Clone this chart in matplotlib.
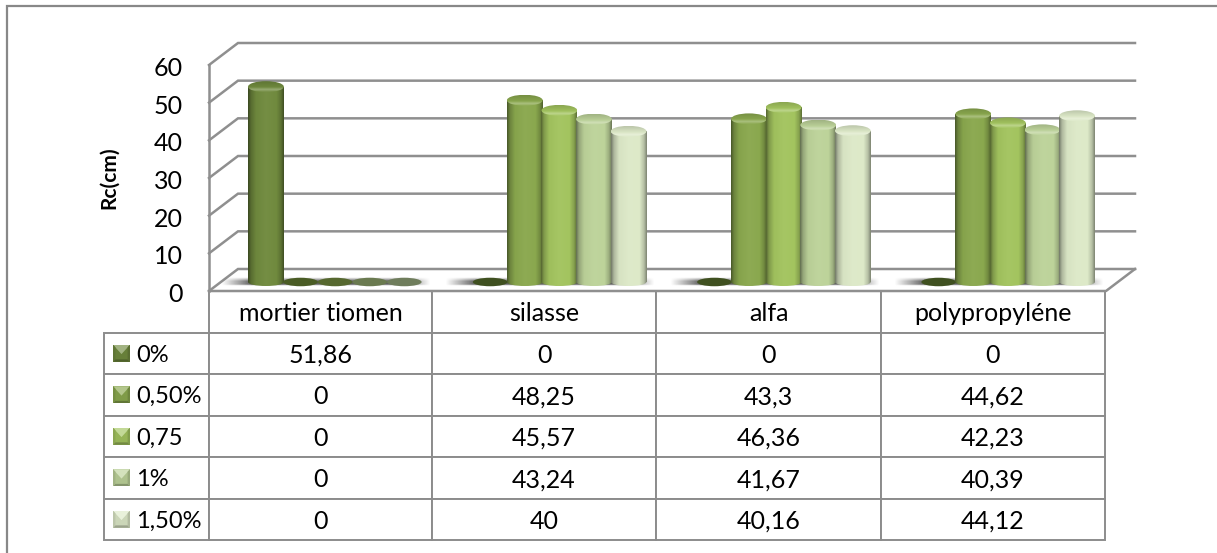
import numpy as np
import matplotlib
matplotlib.use('Agg')
import matplotlib.pyplot as plt
from matplotlib.lines import Line2D
from matplotlib.patches import Ellipse, Polygon, Rectangle
from matplotlib.table import Table
from matplotlib.transforms import ScaledTranslation

categories = ['mortier tiomen', 'silasse', 'alfa', 'polypropyléne']
series_names = ['0%', '0,50%', '0,75', '1%', '1,50%']
s_0 = [51.86, 0, 0, 0]
s_050 = [0, 48.25, 43.3, 44.62]
s_075 = [0, 45.57, 46.36, 42.23]
s_1 = [0, 43.24, 41.67, 40.39]
s_150 = [0, 40, 40.16, 44.12]
table_text = [
    ['51,86', '0', '0', '0'],
    ['0', '48,25', '43,3', '44,62'],
    ['0', '45,57', '46,36', '42,23'],
    ['0', '43,24', '41,67', '40,39'],
    ['0', '40', '40,16', '44,12'],
]
series = [s_0, s_050, s_075, s_1, s_150]
y_ticks = [0, 10, 20, 30, 40, 50, 60]
colors = ['#708a3e', '#8aa84e', '#a3c45f', '#bdd39a', '#dde9c8']
zero_colors = ['#3f5020', '#4a5c25', '#56682f', '#6a7a50', '#6f7d5c']

W, H = 1217, 553
GRAY = '#8c8c8c'
FONT = 18
plt.rcParams['font.family'] = ['Lato', 'DejaVu Sans']


def shade(color, amount):
    rgb = np.array(matplotlib.colors.to_rgb(color))
    if amount < 0:
        return rgb * (1 + amount)
    return rgb + (1 - rgb) * amount


def cyl_gradient(color):
    # dark edges, light band slightly left of the middle
    pos = np.array([0, .07, .22, .5, .8, .93, 1])
    amt = [-.45, -.22, -.03, .03, 0, -.18, -.4]
    rgb = np.array([shade(color, a) for a in amt])
    xs = np.linspace(0, 1, 40)
    return np.stack([np.interp(xs, pos, rgb[:, i]) for i in range(3)], axis=1)[None, :, :]


def cap_gradient(color):
    # top of the cylinder: darker at the back, light rim at the front
    pos = np.array([0, .55, .78, 1])
    amt = [-.15, -.02, .28, .05]
    rgb = np.array([shade(color, a) for a in amt])
    ys = np.linspace(0, 1, 20)
    return np.stack([np.interp(ys, pos, rgb[:, i]) for i in range(3)], axis=1)[:, None, :]


def px_w(v):
    return v / (W_AX / 4)


def px_h(v):
    return v / (H_AX / 60)


def table_label(cell, size):
    txt = cell.get_text()
    txt.set_fontsize(size)
    txt.set_va('center_baseline')


L_AX, R_AX, T_AX, B_AX = 209, 1106, 65, 291
W_AX, H_AX = R_AX - L_AX, B_AX - T_AX
DX, DY = px_w(29), px_h(22)

fig = plt.figure(figsize=(W / 100, H / 100), dpi=100, facecolor='white')
# chart border, the picture cuts it off on the right and at the bottom
fig.add_artist(Line2D([7 / W, 7 / W, 1], [0, 1 - 5.5 / H, 1 - 5.5 / H], transform=fig.transFigure,
                      color='#888888', lw=1.6, solid_joinstyle='miter'))

ax = fig.add_axes([L_AX / W, 1 - B_AX / H, W_AX / W, H_AX / H])
ax.set_xlim(-0.5, 3.5)
ax.set_ylim(0, 60)
ax.patch.set_visible(False)
for sp in ax.spines.values():
    sp.set_visible(False)
ax.set_xticks([])
ax.set_yticks(y_ticks)
ax.tick_params(axis='y', length=0, pad=19, labelsize=FONT, colors='black')
for lab in ax.get_yticklabels():
    lab.set_transform(lab.get_transform() + ScaledTranslation(0, -1.5 / 100, fig.dpi_scale_trans))
ax.set_ylabel('Rc(cm)', fontsize=15, fontweight='bold', labelpad=25)

# walls and floor
x0, x1 = -0.5, 3.5
for t in y_ticks:
    ax.plot([x0, x0 + DX, x1 + DX], [t, t + DY, t + DY], color='#8f8f8f', lw=1.8, clip_on=False, zorder=1,
            solid_joinstyle='miter')
ax.plot([x0, x0], [0, 60], color='#8f8f8f', lw=1.8, clip_on=False, zorder=1)
ax.plot([x0, x1, x1 + DX], [0, 0, DY], color='#8f8f8f', lw=1.8, clip_on=False, zorder=2)

# shadow on the floor, one per category
base_y = px_h(9)
for i in range(4):
    xs = np.linspace(0, 1, 120)
    ys = np.linspace(0, 1, 12)
    fade_x = np.clip(np.minimum(xs, 1 - xs) * 7, 0, 1)
    fade_y = np.clip(np.minimum(ys * 2.2, (1 - ys) * 6), 0, 1)
    rgba = np.zeros((12, 120, 4))
    rgba[..., :3] = 0.38
    rgba[..., 3] = np.outer(fade_y, fade_x)
    ax.imshow(rgba, extent=[i - 0.5 + px_w(12), i + 0.5 - px_w(3), px_h(5), px_h(14)],
              aspect='auto', zorder=2, clip_on=False, interpolation='bilinear')

# cylinders
bar_w = 34.6 / (W_AX / 4)
cap_h = px_h(11)
shift = px_w(14)
for k, vals in enumerate(series):
    for i, v in enumerate(vals):
        xc = i + shift + (k - 2) * bar_w
        left, right = xc - bar_w / 2 - px_w(.6), xc + bar_w / 2 + px_w(.6)
        z = 3 + k
        if v == 0:
            ax.add_patch(Ellipse((xc, base_y), bar_w * 1.0, px_h(8.5), fc=zero_colors[k], ec='none', zorder=z))
            continue
        top = base_y + v
        grad = cyl_gradient(colors[k])
        bottom = Ellipse((xc, base_y), right - left, px_h(8), fc='none', ec='none', zorder=z)
        ax.add_patch(bottom)
        im = ax.imshow(grad, extent=[left, right, base_y - px_h(4), base_y], aspect='auto', zorder=z)
        im.set_clip_path(bottom)
        body = ax.bar(xc, v, width=right - left, bottom=base_y, color='none', zorder=z)[0]
        im = ax.imshow(grad, extent=[left, right, base_y, top], aspect='auto', zorder=z)
        im.set_clip_path(body)
        cap = Ellipse((xc, top), right - left, cap_h, fc='none', ec='none', zorder=z)
        ax.add_patch(cap)
        im = ax.imshow(cap_gradient(colors[k]), extent=[left, right, top - cap_h / 2, top + cap_h / 2],
                       aspect='auto', zorder=z)
        im.set_clip_path(cap)
ax.set_xlim(-0.5, 3.5)
ax.set_ylim(0, 60)

# data table under the plot, cell sizes given in axes fractions so the bbox does not rescale them
col_lefts = [104, 209, 432, 656, 881, 1105]
T_TOP, T_BOT = 291, 540
row_h = (T_BOT - T_TOP) / 6
bbox_ax = [0, (B_AX - T_BOT) / H_AX, (1105 - L_AX) / W_AX, (T_BOT - T_TOP) / H_AX]
tab = Table(ax, bbox=bbox_ax)
tab.auto_set_font_size(False)
cell_h = row_h / H_AX
for c in range(4):
    w = (col_lefts[c + 2] - col_lefts[c + 1]) / W_AX
    cell = tab.add_cell(0, c, w, cell_h, text=categories[c], loc='center', edgecolor=GRAY)
    table_label(cell, FONT)
    for r in range(5):
        cell = tab.add_cell(r + 1, c, w, cell_h, text=table_text[r][c], loc='center', edgecolor=GRAY)
        table_label(cell, FONT)
for r in range(5):
    cell = tab.add_cell(r + 1, -1, (col_lefts[1] - col_lefts[0]) / W_AX, cell_h, text=series_names[r],
                        loc='left', edgecolor=GRAY)
    table_label(cell, 17)
    cell.PAD = 0.305
for cell in tab.get_celld().values():
    cell.set_linewidth(1.4)
ax.add_table(tab)

# legend keys in the row header, little bevelled squares
for r in range(5):
    y_px = T_TOP + row_h * (r + 1.5)
    key = fig.add_axes([113 / W, 1 - (y_px + 8.5) / H, 17 / W, 17 / H])
    key.set_axis_off()
    key.set_xlim(0, 1)
    key.set_ylim(0, 1)
    base = colors[r]
    key.add_patch(Rectangle((0, 0), 1, 1, fc=shade(base, -.08), ec='none'))
    key.add_patch(Polygon([(0, 1), (1, 1), (.5, .45)], fc=shade(base, .35), ec='none'))
    key.add_patch(Polygon([(0, 0), (.14, .14), (.86, .14), (1, 0)], fc=shade(base, -.3), ec='none'))
    key.add_patch(Polygon([(0, 0), (.14, .14), (.14, .86), (0, 1)], fc=shade(base, -.15), ec='none'))
    key.add_patch(Polygon([(1, 0), (.86, .14), (.86, .86), (1, 1)], fc=shade(base, -.2), ec='none'))

fig.savefig('out.png', dpi=100)
